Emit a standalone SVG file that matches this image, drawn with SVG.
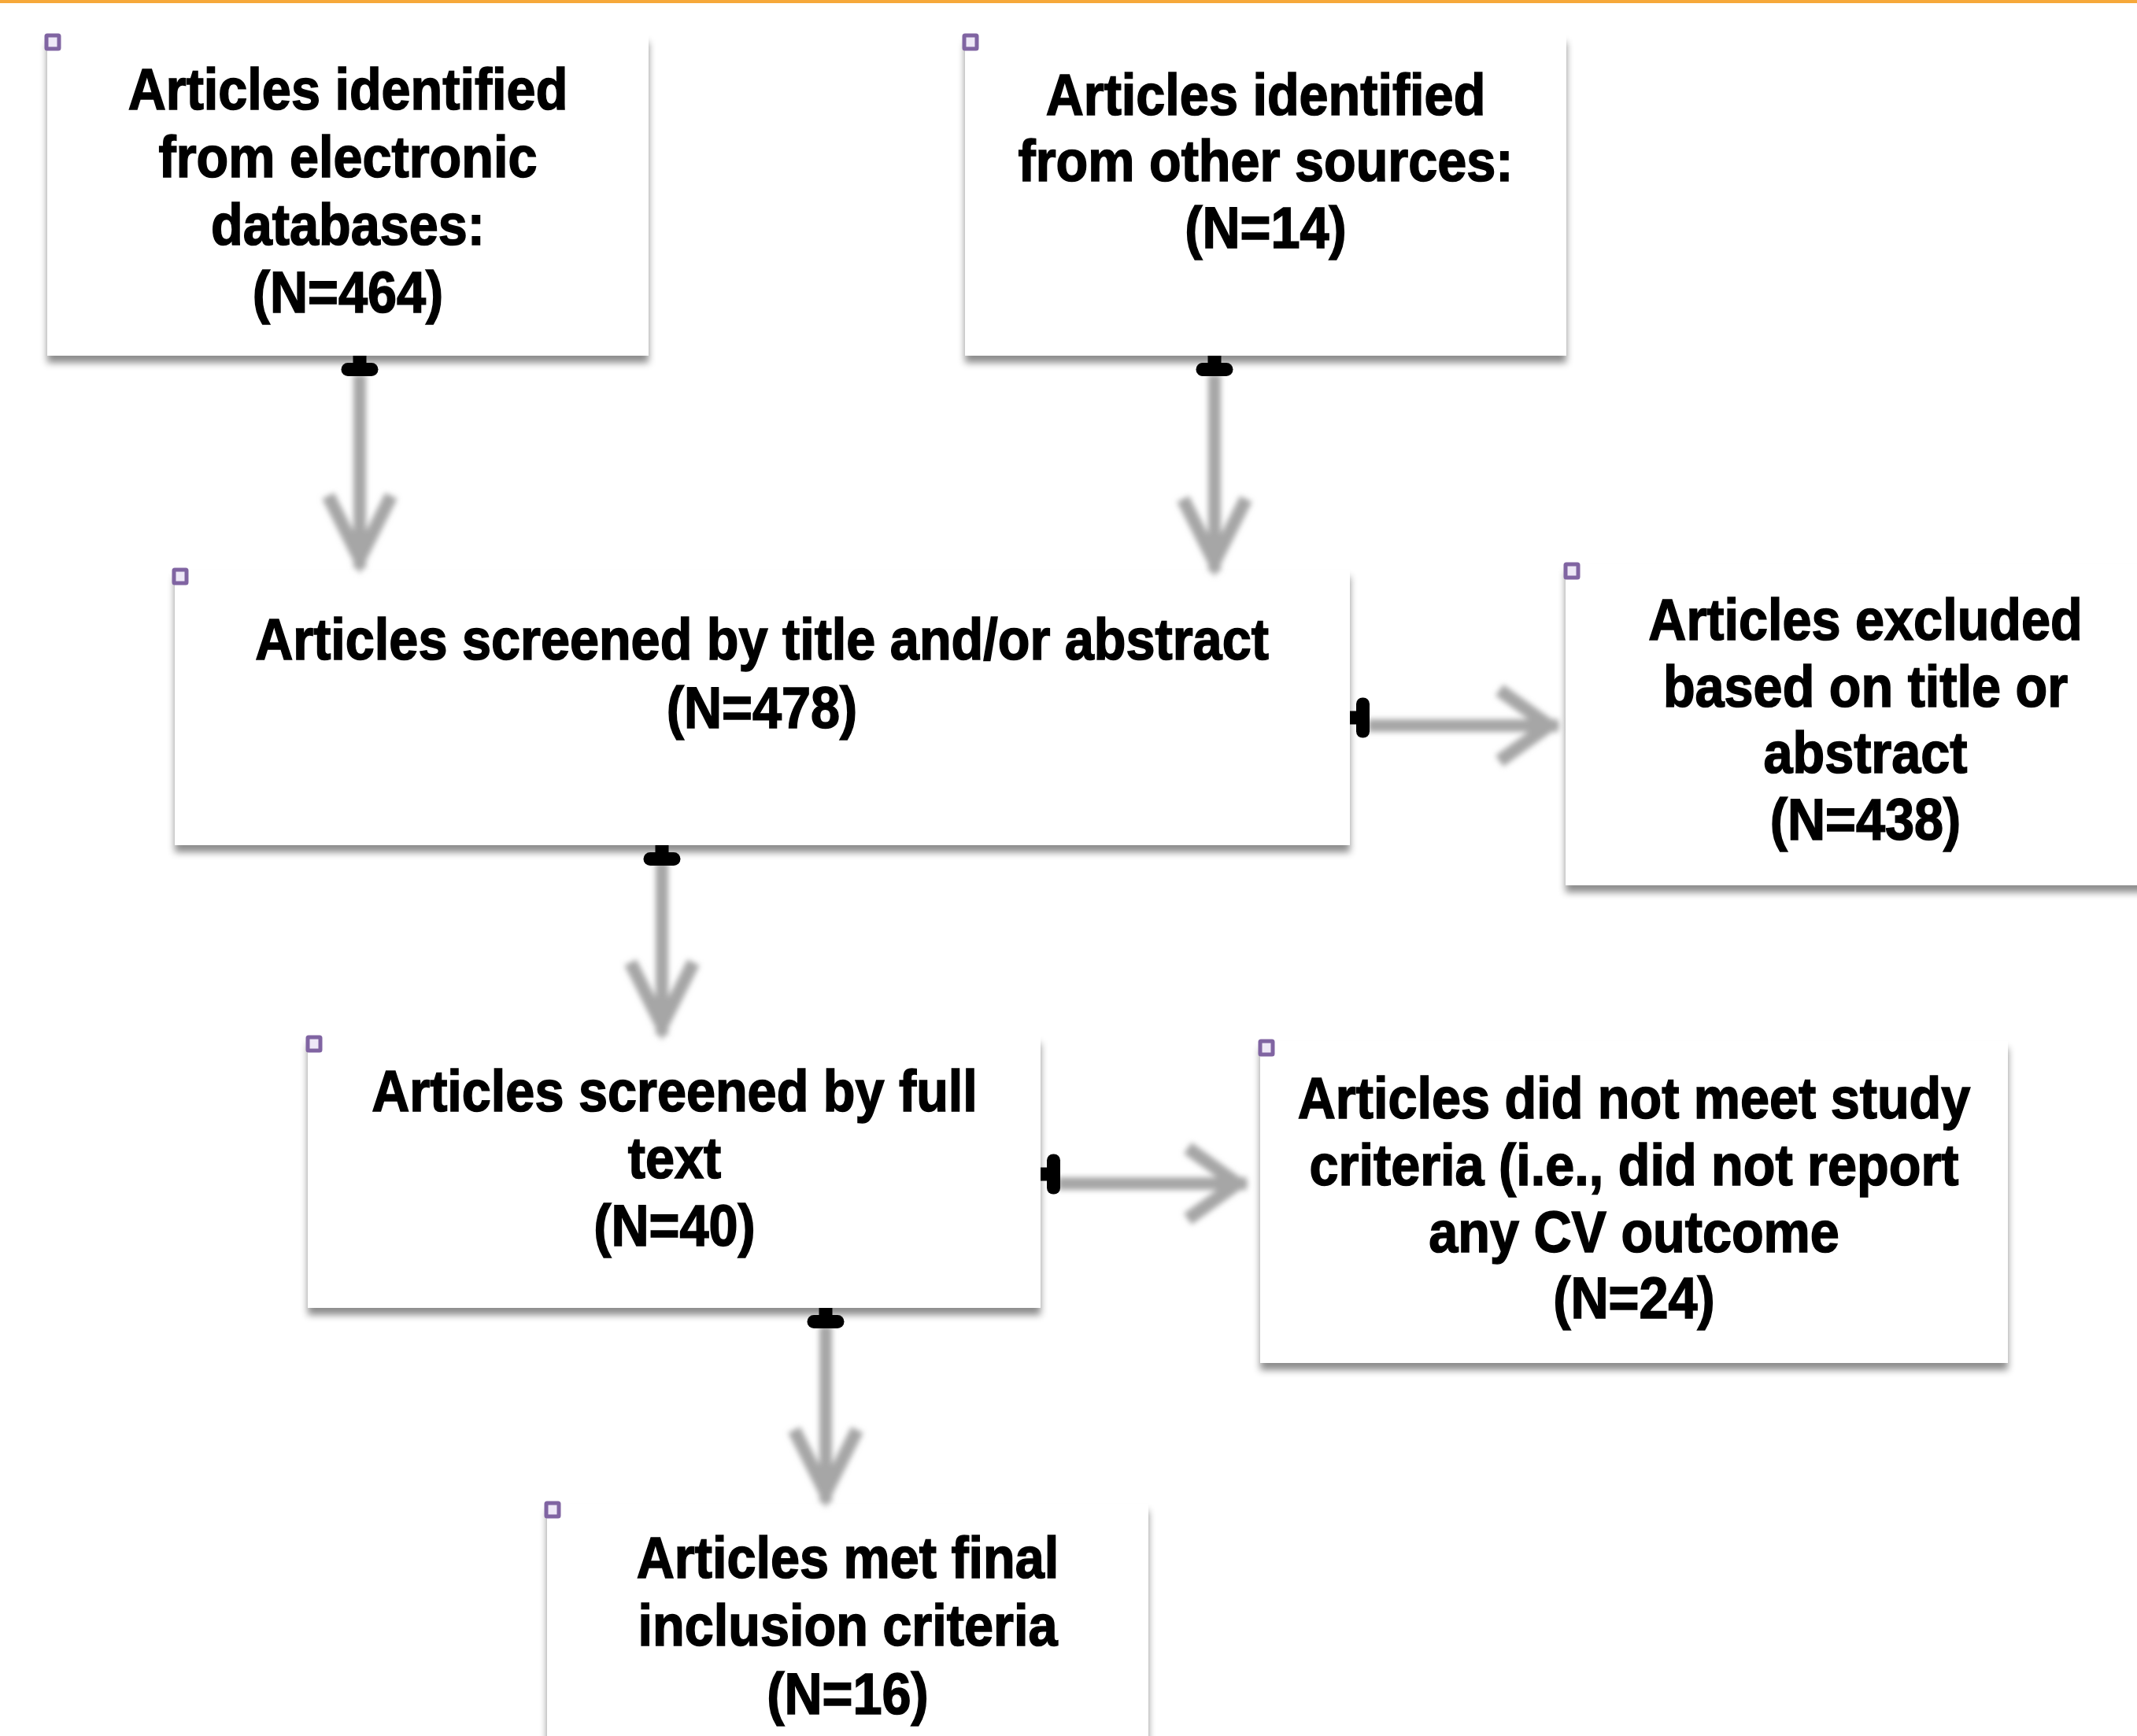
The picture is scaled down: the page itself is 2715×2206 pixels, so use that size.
<svg xmlns="http://www.w3.org/2000/svg" width="2715" height="2206" viewBox="0 0 2715 2206">
  <style>
    .box { fill: #ffffff; filter: url(#boxShadow); }
    .handle { fill: #EEE8F7; stroke: #8064A2; stroke-width: 5; }
    .label { font-family: "Liberation Sans", Arial, sans-serif; font-weight: bold; font-size: 74px; fill: #000000; stroke: #000000; stroke-width: 1.6; text-anchor: middle; }
    .flow { fill: none; stroke: #A6A6A6; stroke-width: 16; }
    .cap { fill: #000000; }
  </style>
  <defs>
    <filter id="boxShadow" x="-5%" y="-5%" width="110%" height="125%">
      <feDropShadow dx="0" dy="9" stdDeviation="5" flood-color="#000000" flood-opacity="0.45"/>
    </filter>
    <filter id="soft" filterUnits="userSpaceOnUse" x="0" y="0" width="2715" height="2206">
      <feGaussianBlur stdDeviation="3.5"/>
    </filter>
    <marker id="arrowV" markerUnits="userSpaceOnUse" orient="auto" refX="0" refY="0" markerWidth="120" markerHeight="120" viewBox="-100 -60 120 120" overflow="visible">
      <path d="M-92,-40 L-12,0 L-92,40" fill="none" stroke="#A6A6A6" stroke-width="17" stroke-linejoin="miter"/>
    </marker>
    <marker id="arrowH" markerUnits="userSpaceOnUse" orient="auto" refX="0" refY="0" markerWidth="120" markerHeight="120" viewBox="-100 -60 120 120" overflow="visible">
      <path d="M-75,-45 L-12,0 L-75,45" fill="none" stroke="#A6A6A6" stroke-width="17" stroke-linejoin="miter"/>
    </marker>
    <g id="capV" class="cap">
      <rect x="-8.5" y="0" width="17" height="12"/>
      <rect x="-23.5" y="9" width="47" height="17" rx="8.5"/>
    </g>
    <g id="capH" class="cap">
      <rect x="0" y="-8.5" width="12" height="17"/>
      <rect x="8" y="-25.5" width="17" height="51" rx="8"/>
    </g>
  </defs>

  <rect x="0" y="0" width="2715" height="2206" fill="#ffffff"/>
  <rect x="0" y="0" width="2715" height="4" fill="#F6A83A"/>

  <g id="node-electronic">
    <rect class="box" x="60" y="45" width="764" height="407"/>
    <rect class="handle" x="59" y="45" width="16" height="17" rx="1"/>
    <g transform="translate(442 0) scale(0.9 1)">
      <text class="label" x="0" y="139">Articles identified</text>
      <text class="label" x="0" y="225">from electronic</text>
      <text class="label" x="0" y="311">databases:</text>
      <text class="label" x="0" y="397">(N=464)</text>
    </g>
  </g>

  <g id="node-other">
    <rect class="box" x="1226" y="45" width="764" height="407"/>
    <rect class="handle" x="1225" y="45" width="16" height="17" rx="1"/>
    <g transform="translate(1608 0) scale(0.9 1)">
      <text class="label" x="0" y="146">Articles identified</text>
      <text class="label" x="0" y="230">from other sources:</text>
      <text class="label" x="0" y="315">(N=14)</text>
    </g>
  </g>

  <g id="node-screened-title">
    <rect class="box" x="222" y="724" width="1493" height="350"/>
    <rect class="handle" x="221" y="724" width="16" height="17" rx="1"/>
    <g transform="translate(968 0) scale(0.9 1)">
      <text class="label" x="0" y="838">Articles screened by title and/or abstract</text>
      <text class="label" x="0" y="925">(N=478)</text>
    </g>
  </g>

  <g id="node-excluded-title">
    <rect class="box" x="1989" y="717" width="763" height="408"/>
    <rect class="handle" x="1989" y="717" width="16" height="17" rx="1"/>
    <g transform="translate(2370 0) scale(0.9 1)">
      <text class="label" x="0" y="813">Articles excluded</text>
      <text class="label" x="0" y="898">based on title or</text>
      <text class="label" x="0" y="982">abstract</text>
      <text class="label" x="0" y="1067">(N=438)</text>
    </g>
  </g>

  <g id="node-screened-full">
    <rect class="box" x="391" y="1317" width="931" height="345"/>
    <rect class="handle" x="391" y="1318" width="16" height="17" rx="1"/>
    <g transform="translate(857 0) scale(0.9 1)">
      <text class="label" x="0" y="1412">Articles screened by full</text>
      <text class="label" x="0" y="1497">text</text>
      <text class="label" x="0" y="1583">(N=40)</text>
    </g>
  </g>

  <g id="node-not-meet">
    <rect class="box" x="1601" y="1323" width="950" height="409"/>
    <rect class="handle" x="1601" y="1323" width="16" height="17" rx="1"/>
    <g transform="translate(2076 0) scale(0.9 1)">
      <text class="label" x="0" y="1421">Articles did not meet study</text>
      <text class="label" x="0" y="1506">criteria (i.e., did not report</text>
      <text class="label" x="0" y="1591">any CV outcome</text>
      <text class="label" x="0" y="1675">(N=24)</text>
    </g>
  </g>

  <g id="node-final">
    <rect class="box" x="695" y="1911" width="764" height="350"/>
    <rect class="handle" x="694" y="1910" width="16" height="17" rx="1"/>
    <g transform="translate(1077 0) scale(0.9 1)">
      <text class="label" x="0" y="2005">Articles met final</text>
      <text class="label" x="0" y="2091">inclusion criteria</text>
      <text class="label" x="0" y="2178">(N=16)</text>
    </g>
  </g>

  <g id="connectors">
    <g filter="url(#soft)">
      <path class="flow" d="M457,476 L457,722" marker-end="url(#arrowV)"/>
      <path class="flow" d="M1543,476 L1543,726" marker-end="url(#arrowV)"/>
      <path class="flow" d="M1738,922 L1980,922" marker-end="url(#arrowH)"/>
      <path class="flow" d="M841,1095 L841,1315" marker-end="url(#arrowV)"/>
      <path class="flow" d="M1344,1504 L1584,1504" marker-end="url(#arrowH)"/>
      <path class="flow" d="M1049,1685 L1049,1909" marker-end="url(#arrowV)"/>
    </g>
    <use href="#capV" transform="translate(457 452)"/>
    <use href="#capV" transform="translate(1543 452)"/>
    <use href="#capH" transform="translate(1715 912)"/>
    <use href="#capV" transform="translate(841 1074)"/>
    <use href="#capH" transform="translate(1322 1492)"/>
    <use href="#capV" transform="translate(1049 1662)"/>
  </g>
</svg>
